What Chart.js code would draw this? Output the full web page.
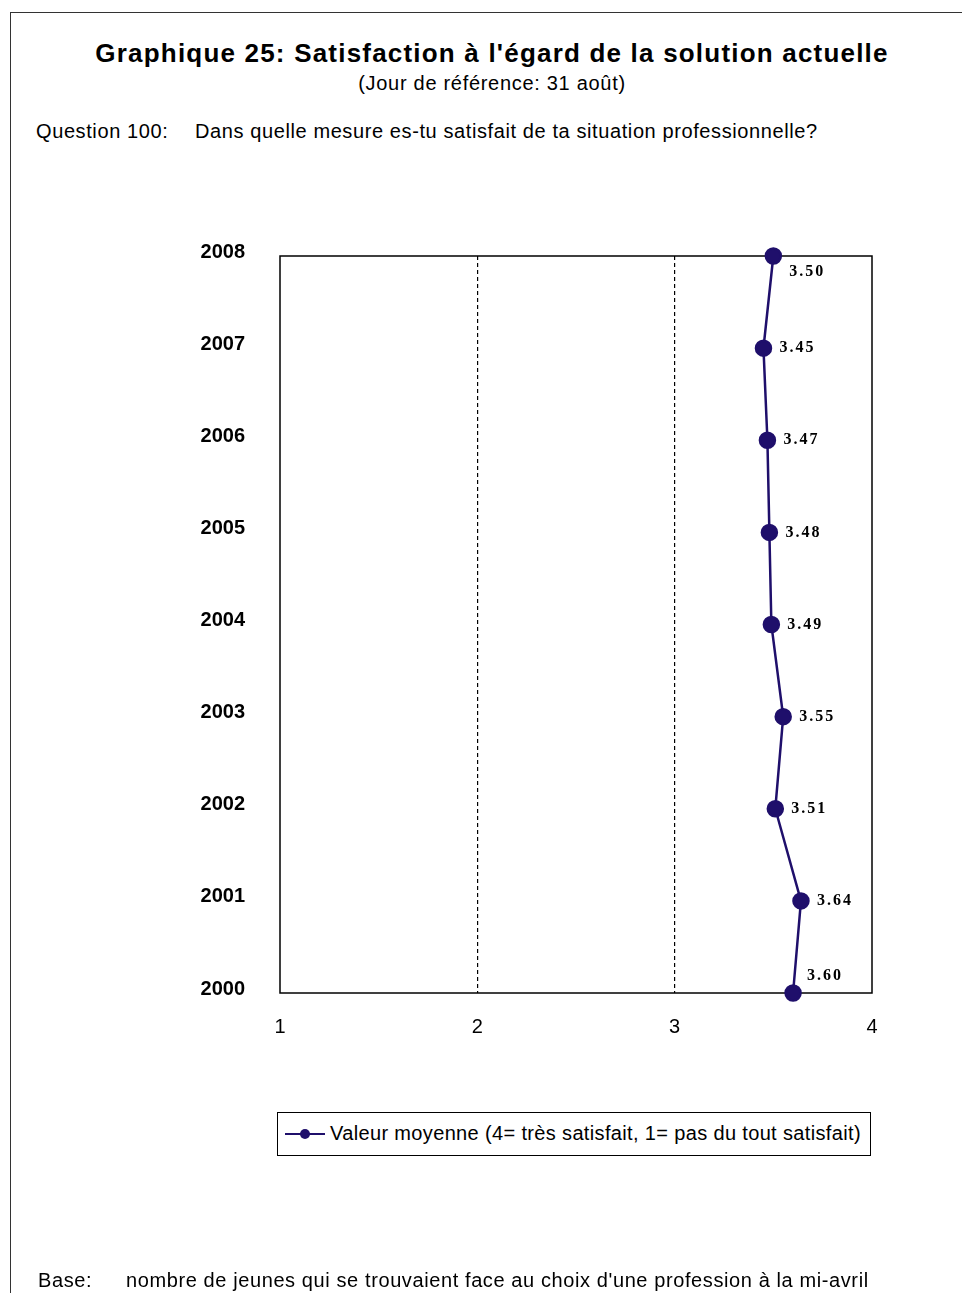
<!DOCTYPE html>
<html>
<head>
<meta charset="utf-8">
<script src="https://cdn.jsdelivr.net/npm/chart.js@4/dist/chart.umd.min.js"></script>
<style>
  html, body { margin: 0; padding: 0; background: #fff; }
  body { width: 962px; height: 1293px; position: relative; overflow: hidden; font-family: "Liberation Sans", Arial, sans-serif; color: #000; }
  #frame { position: absolute; left: 10px; top: 12px; width: 1000px; height: 1400px; border: 1px solid #333; box-sizing: border-box; }
  #wrap { position: absolute; left: 0; top: 0; width: 962px; height: 1293px; }
  .t { position: absolute; white-space: nowrap; line-height: 1.15; }
  #title { left: 0; width: 984px; top: 39px; text-align: center; font-weight: bold; font-size: 26px; letter-spacing: 1.2px; }
  #sub { left: 0; width: 984px; top: 72px; text-align: center; font-size: 20px; letter-spacing: 0.7px; }
  #q1 { left: 36px; top: 120px; font-size: 20px; letter-spacing: 0.6px; }
  #q2 { left: 195px; top: 120px; font-size: 20px; letter-spacing: 0.6px; }
  #b1 { left: 38px; top: 1269px; font-size: 20px; letter-spacing: 0.6px; }
  #b2 { left: 126px; top: 1269px; font-size: 20px; letter-spacing: 0.6px; }
  #legend { position: absolute; left: 277px; top: 1112px; width: 594px; height: 44px; border: 1px solid #000; box-sizing: border-box; background: #fff; }
  #legend .mk { position: absolute; left: 7px; top: 20px; width: 40px; height: 2px; background: #1f0f6b; }
  #legend .dot { position: absolute; left: 22px; top: 16px; width: 10px; height: 10px; border-radius: 50%; background: #1f0f6b; }
  #legend .lt { position: absolute; left: 52px; top: 9px; font-size: 20px; letter-spacing: 0.35px; line-height: 1.15; white-space: nowrap; }
</style>
</head>
<body>
<div id="frame"></div>
<div class="t" id="title">Graphique 25: Satisfaction à l'égard de la solution actuelle</div>
<div class="t" id="sub">(Jour de référence: 31 août)</div>
<div class="t" id="q1">Question 100:</div>
<div class="t" id="q2">Dans quelle mesure es-tu satisfait de ta situation professionnelle?</div>
<div id="wrap"><canvas id="c" width="962" height="1293"></canvas></div>
<div id="legend"><div class="mk"></div><div class="dot"></div><div class="lt" id="legendText"></div></div>
<div class="t" id="b1">Base:</div>
<div class="t" id="b2">nombre de jeunes qui se trouvaient face au choix d'une profession à la mi-avril</div>
<script>
const years = ['2008', '2007', '2006', '2005', '2004', '2003', '2002', '2001', '2000'];
const meanValues = [3.50, 3.45, 3.47, 3.48, 3.49, 3.55, 3.51, 3.64, 3.60];
const xTicks = [1, 2, 3, 4];
const seriesLabel = 'Valeur moyenne (4= très satisfait, 1= pas du tout satisfait)';
const lineColor = '#1f0f6b';

document.getElementById('legendText').textContent = seriesLabel;

const frameBox = {
  id: 'frameBox',
  beforeDatasetsDraw(chart) {
    const a = chart.chartArea, ctx = chart.ctx;
    ctx.save();
    ctx.strokeStyle = '#000';
    ctx.lineWidth = 1.5;
    ctx.strokeRect(a.left, a.top, a.right - a.left, a.bottom - a.top);
    ctx.restore();
  }
};

const valueLabels = {
  id: 'valueLabels',
  afterDatasetsDraw(chart) {
    const ctx = chart.ctx;
    const meta = chart.getDatasetMeta(0);
    const n = meta.data.length;
    ctx.save();
    ctx.font = 'bold 16px "Liberation Serif", "Times New Roman", serif';
    ctx.fillStyle = '#000';
    ctx.textBaseline = 'middle';
    ctx.textAlign = 'left';
    if ('letterSpacing' in ctx) ctx.letterSpacing = '2px';
    meta.data.forEach((pt, i) => {
      let dx = 16, dy = 0;
      if (i === 0) { dx = 16; dy = 16; }
      if (i === n - 1) { dx = 14; dy = -17; }
      ctx.fillText(chart.data.datasets[0].data[i].toFixed(2), pt.x + dx, pt.y + dy);
    });
    ctx.restore();
  }
};

new Chart(document.getElementById('c'), {
  type: 'line',
  data: {
    labels: years,
    datasets: [{
      label: seriesLabel,
      data: meanValues,
      borderColor: lineColor,
      backgroundColor: lineColor,
      borderWidth: 2.5,
      pointRadius: 7.5,
      pointHoverRadius: 7.5,
      pointBackgroundColor: lineColor,
      pointBorderColor: lineColor,
      tension: 0,
      clip: false
    }]
  },
  options: {
    indexAxis: 'y',
    responsive: false,
    animation: false,
    layout: { padding: { left: 180, right: 90, top: 256, bottom: 240 } },
    plugins: { legend: { display: false }, tooltip: { enabled: false } },
    scales: {
      x: {
        type: 'linear',
        min: 1, max: 4,
        afterBuildTicks(scale) { scale.ticks = xTicks.map(v => ({ value: v })); },
        afterFit(scale) { scale.height = 60; },
        ticks: { color: '#000', padding: 22, font: { family: '"Liberation Sans", Arial, sans-serif', size: 20 } },
        grid: {
          drawTicks: false,
          color: ctx => (ctx.tick && (ctx.tick.value === 2 || ctx.tick.value === 3)) ? '#000' : 'rgba(0,0,0,0)',
          lineWidth: 1.2
        },
        border: { display: false, dash: [4, 3] }
      },
      y: {
        type: 'category',
        offset: false,
        afterFit(scale) { scale.width = 100; },
        ticks: { color: '#000', padding: 35, labelOffset: -4, font: { family: '"Liberation Sans", Arial, sans-serif', size: 20, weight: 'bold' } },
        grid: { display: false, drawTicks: false },
        border: { display: false }
      }
    }
  },
  plugins: [frameBox, valueLabels]
});
</script>
</body>
</html>
